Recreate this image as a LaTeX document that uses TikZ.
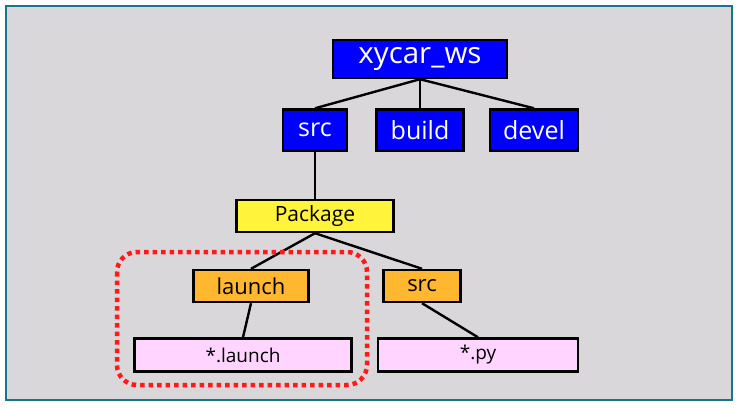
\documentclass[tikz,border=0pt]{standalone}
\usepackage{fontspec}
\setmainfont{Open Sans}
\usepackage{xcolor}
\usetikzlibrary{positioning,fit}
\definecolor{frameteal}{HTML}{17768C}
\definecolor{panelgray}{HTML}{D9D7D9}
\definecolor{wsblue}{HTML}{0000FF}
\definecolor{pkgyellow}{HTML}{FFF33B}
\definecolor{dirorange}{HTML}{FFB730}
\definecolor{filepink}{HTML}{FFD5FF}
\begin{document}
\begin{tikzpicture}[x=1pt,y=-1pt,
		box/.style={draw=black,line width=2.4pt,inner sep=0pt,align=center},
		ws/.style={box,fill=wsblue,text=white},
		pkg/.style={box,fill=pkgyellow,font=\fontsize{21}{24}\selectfont},
		dir/.style={box,fill=dirorange,font=\fontsize{22}{25}\selectfont},
		file/.style={box,fill=filepink,font=\fontsize{19}{22}\selectfont},
		ln/.style={line width=2.4pt,black}]
		\useasboundingbox (0,0) rectangle (738,407);
		\fill[white] (0,0) rectangle (738,407);
		\draw[frameteal,line width=2.5pt,fill=panelgray] (6,6) rectangle (732,400);
		\node[ws,minimum width=174pt,minimum height=38pt,font=\fontsize{29.5}{32}\selectfont] (ws) at (420,59) {xycar\_ws};
		\node[ws,minimum width=64pt,minimum height=41pt,font=\fontsize{25}{28}\selectfont] (src) at (315,130) {src};
		\node[ws,minimum width=87pt,minimum height=41pt,font=\fontsize{25}{28}\selectfont] (build) at (420,130) {build};
		\node[ws,minimum width=88pt,minimum height=41pt,font=\fontsize{25}{28}\selectfont] (devel) at (534,130) {devel};
		\node[pkg,minimum width=157pt,minimum height=32pt] (pkg) at (315,216) {Package};
		\node[dir,minimum width=115pt,minimum height=32pt] (launch) at (251,286) {launch};
		\node[dir,minimum width=77pt,minimum height=32pt] (pkgsrc) at (422,286) {src};
		\node[file,minimum width=217pt,minimum height=33pt] (lfile) at (243,355) {*.launch};
		\node[file,minimum width=200pt,minimum height=33pt] (pyfile) at (478,355) {*.py};
		\draw[ln] (ws.south) -- (src.north);
		\draw[ln] (ws.south) -- (build.north);
		\draw[ln] (ws.south) -- (devel.north);
		\draw[ln] (src.south) -- (pkg.north);
		\draw[ln] (pkg.south) -- (launch.north);
		\draw[ln] (pkg.south) -- (pkgsrc.north);
		\draw[ln] (launch.south) -- (lfile.north);
		\draw[ln] (pkgsrc.south) -- (pyfile.north);
		% highlight round the launch files
		\draw[red!90!white,line width=4.5pt,dash pattern=on 4.5pt off 4pt,rounded corners=20pt]
			(117,252) rectangle (367,385);
	\end{tikzpicture}
\end{document}
